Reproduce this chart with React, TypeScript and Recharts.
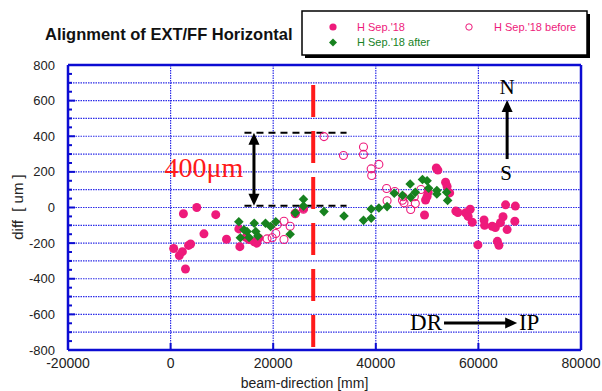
import React from "react";
import {
  ScatterChart,
  Scatter,
  XAxis,
  YAxis,
  CartesianGrid,
  ReferenceLine,
  ReferenceDot,
} from "recharts";

const PINK = "#ee1a7b";
const GREEN = "#17821f";
const FRAME = "#0c0cd2";
const GRID = "#2d2de8";
const SANS = "'Liberation Sans', Arial, sans-serif";
const SERIF = "'Liberation Serif', 'Times New Roman', serif";

// [beam-direction mm, diff um]
const hSep18: [number, number][] = [
  [600, -230], [1700, -270], [2300, -248], [3500, -213], [3900, -205], [2900, -345],
  [2500, -35], [5100, 0], [8800, -40], [6500, -148], [10900, -178],
  [13300, -120], [13500, -220], [14700, -168], [15300, -180], [16300, -192],
  [16800, -200], [17200, -172], [24300, -35], [25900, -5],
  [49500, -42], [49700, 42], [50000, 62], [50200, 85], [51800, 222], [52100, 210],
  [53600, 142], [53900, 118], [54400, 82], [55600, -20], [56000, -28], [57500, -30],
  [58000, -50], [58400, -10], [58800, -83], [59900, -210], [61100, -70], [61200, -100],
  [62700, -105], [63300, -112], [63700, -190], [64000, -212], [64800, -52], [65300, 15],
  [67200, 8], [64300, -85], [67100, -77], [65600, -124],
];

const hSep18Before: [number, number][] = [
  [18800, -176], [19800, -170], [20500, -146], [20800, -96], [22100, -77], [22100, -180],
  [23300, -105], [24300, -32], [25900, -10], [29900, 398], [33700, 292], [37600, 340],
  [37600, 298], [39100, 217], [40600, 242], [39200, 180], [42100, 107], [43700, 90],
  [42200, 38], [45200, 41], [45500, 26], [46800, -11], [47700, 22], [48800, 101],
  [45300, 60], [47500, 60],
];

const hSep18After: [number, number][] = [
  [13300, -80], [13600, -170], [14300, -125], [14900, -135], [15300, -168], [16300, -88],
  [16600, -135], [17000, -160], [18500, -88], [19500, -107], [20500, -80], [23300, -150],
  [24300, -30], [25900, 46], [25900, 8], [29900, -23], [33800, -48], [37600, -72],
  [39100, -60], [39100, -8], [40600, -3], [42200, 5], [43600, 80], [45200, 68],
  [46700, 132], [46800, 57], [47700, 85], [49100, 157], [50000, 150], [50300, 108],
  [51900, 95], [51900, 76], [53800, 86], [54000, 40],
];

const xTicks = [-20000, 0, 20000, 40000, 60000, 80000];
const yTicks = [
  -800, -750, -700, -650, -600, -550, -500, -450, -400, -350, -300, -250, -200, -150,
  -100, -50, 0, 50, 100, 150, 200, 250, 300, 350, 400, 450, 500, 550, 600, 650, 700,
  750, 800,
];
const gridX = [0, 20000, 40000, 60000];
const gridY = [-700, -600, -500, -400, -300, -200, -100, 0, 100, 200, 300, 400, 500, 600, 700];

const toPoints = (rows: [number, number][]) => rows.map(([x, y]) => ({ x, y }));

const tickLen = (v: number) => (v % 200 === 0 ? 7 : 4);

const LeftTick = (p: any) => {
  const v = p.payload.value;
  return (
    <g>
      <line x1={p.x} x2={p.x + tickLen(v)} y1={p.y} y2={p.y} stroke={FRAME} strokeWidth={2} />
      {v % 200 === 0 && (
        <text x={p.x - 13} y={p.y} textAnchor="end" dominantBaseline="central" fontSize={13} fontFamily={SANS} fill="#222">
          {v}
        </text>
      )}
    </g>
  );
};

const RightTick = (p: any) => (
  <line x1={p.x} x2={p.x - tickLen(p.payload.value)} y1={p.y} y2={p.y} stroke={FRAME} strokeWidth={2} />
);

const BottomTick = (p: any) => (
  <g>
    <line x1={p.x} x2={p.x} y1={p.y} y2={p.y - 7} stroke={FRAME} strokeWidth={2} />
    <text x={p.x} y={p.y + 13} textAnchor="middle" dominantBaseline="central" fontSize={14} fontFamily={SANS} fill="#222">
      {p.payload.value}
    </text>
  </g>
);

const TopTick = (p: any) => (
  <line x1={p.x} x2={p.x} y1={p.y} y2={p.y + 7} stroke={FRAME} strokeWidth={2} />
);

const Dot = (p: any) => <circle cx={p.cx} cy={p.cy} r={4.5} fill={PINK} />;
const Ring = (p: any) => <circle cx={p.cx} cy={p.cy} r={4} fill="none" stroke={PINK} strokeWidth={1.1} />;
const Diamond = (p: any) => (
  <path d={`M${p.cx},${p.cy - 4.8}L${p.cx + 4.8},${p.cy}L${p.cx},${p.cy + 4.8}L${p.cx - 4.8},${p.cy}Z`} fill={GREEN} />
);

const arrow = (both: boolean, width: number) => (p: any) => {
  const { x1, y1, x2, y2 } = p;
  const len = Math.hypot(x2 - x1, y2 - y1) || 1;
  const ux = (x2 - x1) / len;
  const uy = (y2 - y1) / len;
  const hl = 12;
  const hw = 5.5;
  const head = (tx: number, ty: number, sx: number, sy: number) => {
    const bx = tx - sx * hl;
    const by = ty - sy * hl;
    return `${tx},${ty} ${bx - sy * hw},${by + sx * hw} ${bx + sy * hw},${by - sx * hw}`;
  };
  return (
    <g>
      <line
        x1={both ? x1 + ux * (hl - 1) : x1}
        y1={both ? y1 + uy * (hl - 1) : y1}
        x2={x2 - ux * (hl - 1)}
        y2={y2 - uy * (hl - 1)}
        stroke="#000"
        strokeWidth={width}
      />
      <polygon points={head(x2, y2, ux, uy)} fill="#000" />
      {both && <polygon points={head(x1, y1, -ux, -uy)} fill="#000" />}
    </g>
  );
};

const note = (text: string, size: number, color: string) => (p: any) => (
  <text x={p.cx} y={p.cy} textAnchor="middle" dominantBaseline="central" fontSize={size} fontFamily={SERIF} fill={color}>
    {text}
  </text>
);

const XLabel = (p: any) => {
  const vb = p.viewBox;
  return (
    <text x={vb.x + vb.width / 2 - 20} y={vb.y + 33} textAnchor="middle" dominantBaseline="central" fontSize={14} fontFamily={SANS} fill="#222">
      beam-direction [mm]
    </text>
  );
};

const YLabel = () => (
  <text x={17} y={207} transform="rotate(-90 17 207)" textAnchor="middle" dominantBaseline="central" fontSize={15} fontFamily={SANS} fill="#222" style={{ whiteSpace: "pre" }}>
    diff  [ um ]
  </text>
);

export default function App() {
  return (
    <div style={{ position: "absolute", left: 0, top: 0, width: 602, height: 391, background: "#fff" }}>
      <ScatterChart width={602} height={391} margin={{ top: 0, right: 0, bottom: 0, left: 0 }}>
        <CartesianGrid
          horizontalValues={gridY}
          verticalValues={gridX}
          stroke={GRID}
          strokeDasharray="1.5 1"
          strokeWidth={1.2}
        />
        <XAxis
          type="number"
          dataKey="x"
          domain={[-20000, 80000]}
          ticks={xTicks}
          interval={0}
          height={41}
          tickSize={0}
          tickMargin={0}
          tickLine={false}
          tick={BottomTick}
          axisLine={{ stroke: FRAME, strokeWidth: 2.5 }}
          label={<XLabel />}
        />
        <XAxis
          xAxisId="top"
          orientation="top"
          type="number"
          dataKey="x"
          domain={[-20000, 80000]}
          ticks={xTicks}
          interval={0}
          height={65}
          tickSize={0}
          tickMargin={0}
          tickLine={false}
          tick={TopTick}
          axisLine={{ stroke: FRAME, strokeWidth: 2.5 }}
        />
        <YAxis
          type="number"
          dataKey="y"
          domain={[-800, 800]}
          ticks={yTicks}
          interval={0}
          width={68}
          tickSize={0}
          tickMargin={0}
          tickLine={false}
          tick={LeftTick}
          axisLine={{ stroke: FRAME, strokeWidth: 2.5 }}
          label={<YLabel />}
        />
        <YAxis
          yAxisId="right"
          orientation="right"
          type="number"
          dataKey="y"
          domain={[-800, 800]}
          ticks={yTicks}
          interval={0}
          width={21}
          tickSize={0}
          tickMargin={0}
          tickLine={false}
          tick={RightTick}
          axisLine={{ stroke: FRAME, strokeWidth: 2.5 }}
        />

        <ReferenceLine
          segment={[{ x: 27800, y: 688 }, { x: 27800, y: -800 }]}
          stroke="#ff1a1a"
          strokeWidth={4}
          strokeDasharray="32 14"
        />
        <ReferenceLine
          segment={[{ x: 14400, y: 420 }, { x: 34300, y: 420 }]}
          stroke="#000"
          strokeWidth={2}
          strokeDasharray="7 5"
        />
        <ReferenceLine
          segment={[{ x: 14400, y: 10 }, { x: 34300, y: 10 }]}
          stroke="#000"
          strokeWidth={2}
          strokeDasharray="7 5"
        />

        <Scatter name="H Sep.'18" data={toPoints(hSep18)} shape={Dot} isAnimationActive={false} />
        <Scatter name="H Sep.'18 before" data={toPoints(hSep18Before)} shape={Ring} isAnimationActive={false} />
        <Scatter name="H Sep.'18 after" data={toPoints(hSep18After)} shape={Diamond} isAnimationActive={false} />

        <ReferenceLine segment={[{ x: 16250, y: 420 }, { x: 16250, y: 10 }]} shape={arrow(true, 3)} />
        <ReferenceLine segment={[{ x: 65600, y: 272 }, { x: 65600, y: 603 }]} shape={arrow(false, 3)} />
        <ReferenceLine segment={[{ x: 53300, y: -648 }, { x: 67560, y: -648 }]} shape={arrow(false, 3)} />

        <ReferenceDot x={6500} y={222} r={0} shape={note("400μm", 28, "#ff1a1a")} />
        <ReferenceDot x={65600} y={676} r={0} shape={note("N", 21, "#000")} />
        <ReferenceDot x={65400} y={194} r={0} shape={note("S", 21, "#000")} />
        <ReferenceDot x={49800} y={-648} r={0} shape={note("DR", 23, "#000")} />
        <ReferenceDot x={69900} y={-648} r={0} shape={note("IP", 23, "#000")} />
      </ScatterChart>

      <svg width={602} height={62} style={{ position: "absolute", left: 0, top: 0, pointerEvents: "none" }}>
        <text x={45} y={40} fontSize={16.5} fontWeight="bold" fontFamily={SANS} fill="#111">
          Alignment of EXT/FF Horizontal
        </text>
        <rect x={305} y={14} width={285} height={44} fill="#000" />
        <rect x={302} y={11} width={285} height={44} fill="#fff" stroke="#000" strokeWidth={1.5} />
        <circle cx={333} cy={27} r={3.6} fill={PINK} />
        <text x={357} y={31} fontSize={11} fontFamily={SANS} fill={PINK}>H Sep.'18</text>
        <circle cx={469} cy={27} r={3.2} fill="none" stroke={PINK} strokeWidth={1} />
        <text x={494} y={31} fontSize={11} fontFamily={SANS} fill={PINK}>H Sep.'18 before</text>
        <path d="M333,38.5L337,42.5L333,46.5L329,42.5Z" fill={GREEN} />
        <text x={357} y={46} fontSize={11} fontFamily={SANS} fill={GREEN}>H Sep.'18 after</text>
      </svg>
    </div>
  );
}
